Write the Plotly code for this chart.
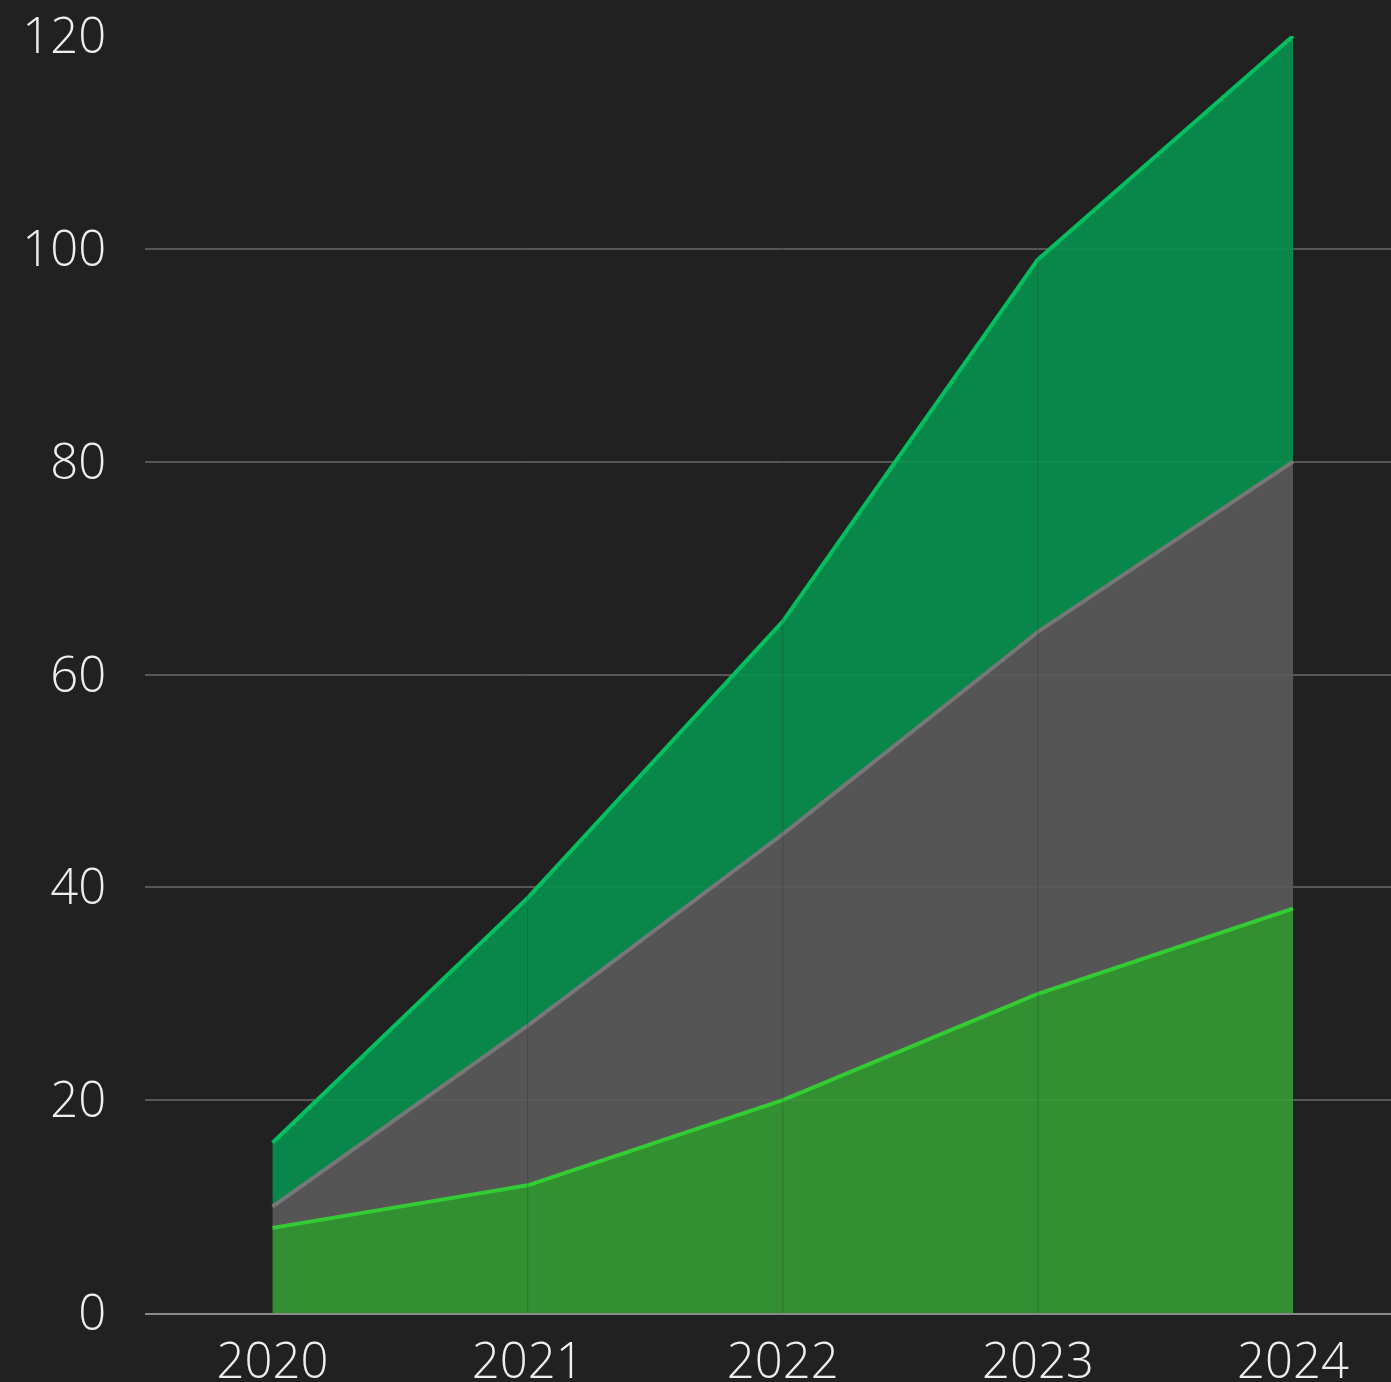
import plotly.graph_objects as go

years = [2020, 2021, 2022, 2023, 2024]
series_bottom = [8, 12, 20, 30, 38]
series_middle = [2, 15, 25, 34, 42]
series_top = [6, 12, 20, 35, 40]
y_ticks = [0, 20, 40, 60, 80, 100, 120]

BG = "#212121"
FONT = dict(family="Open Sans", size=49, color="#eeeeee", weight=300)

fig = go.Figure()
fig.add_trace(go.Scatter(
    x=years, y=series_bottom, stackgroup="one", mode="lines",
    line=dict(color="#33cc33", width=4),
    fillcolor="rgba(52,154,52,0.92)", name="A"))
fig.add_trace(go.Scatter(
    x=years, y=series_middle, stackgroup="one", mode="lines",
    line=dict(color="#777777", width=4),
    fillcolor="rgba(90,90,90,0.92)", name="B"))
fig.add_trace(go.Scatter(
    x=years, y=series_top, stackgroup="one", mode="lines",
    line=dict(color="#00c060", width=4),
    fillcolor="rgba(8,144,78,0.92)", name="C"))

shapes = [dict(type="line", xref="x", yref="paper", x0=yr, x1=yr, y0=0, y1=1,
               layer="above", line=dict(color="rgba(34,34,34,0.25)", width=1))
          for yr in years[1:-1]]

fig.update_layout(
    width=1391, height=1382,
    paper_bgcolor=BG, plot_bgcolor=BG,
    margin=dict(l=145, r=0, t=36, b=69, autoexpand=False),
    showlegend=False,
    font=FONT,
    shapes=shapes,
    xaxis=dict(
        tickmode="array", tickvals=years, ticktext=[str(y) for y in years],
        range=[2019.5, 2024.384], showgrid=False, zeroline=False,
        showline=True, linecolor="#8a8a8a", linewidth=2, layer="above traces",
        ticks="outside", ticklen=4, tickcolor="rgba(0,0,0,0)",
        tickfont=FONT, automargin=False,
    ),
    yaxis=dict(
        tickmode="array", tickvals=y_ticks, range=[0, 120],
        showgrid=True, gridcolor="#575757", gridwidth=1.5,
        zeroline=False, showline=False,
        ticks="outside", ticklen=28, tickcolor="rgba(0,0,0,0)",
        tickfont=FONT, automargin=False,
    ),
)

fig.write_html("out.html", config={"displayModeBar": False},
               post_script="document.body.style.margin='0';document.body.style.overflow='hidden';")
